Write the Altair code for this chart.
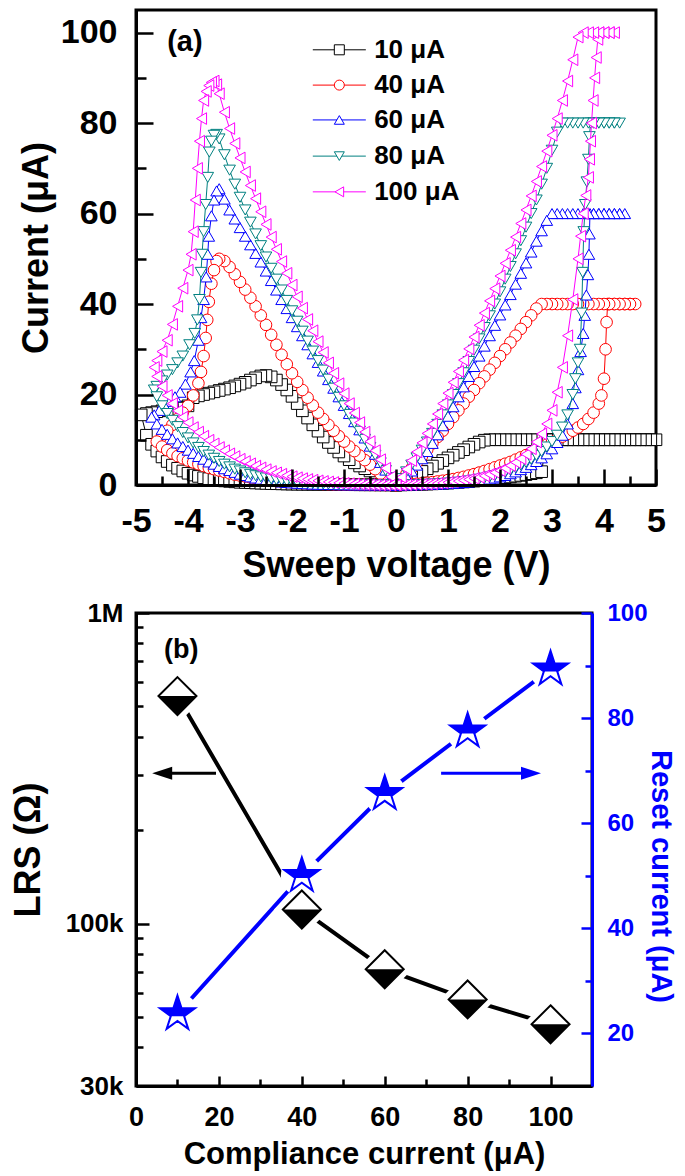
import altair as alt
import pandas as pd

FONT = "Liberation Sans"
BLUE = "#0000ff"

# ---------------- panel (a): I-V sweeps ----------------
SERIES = ["10 μA", "40 μA", "60 μA", "80 μA", "100 μA"]
COLORS = ["#000000", "#ff0000", "#0000ff", "#008080", "#ff00ff"]
SHAPES = ["square", "circle", "triangle-up", "triangle-down", "triangle-left"]

# 10 uA  (V, I) in sweep order
S10_SET = [(0.0, 0.0), (0.1, 0.02), (0.2, 0.05), (0.3, 0.08), (0.4, 0.12), (0.5, 0.16), (0.6, 0.2), (0.7, 0.25),
           (0.8, 0.3), (0.9, 0.36), (1.0, 0.42), (1.1, 0.5), (1.2, 0.58), (1.3, 0.67), (1.4, 0.76), (1.5, 0.86),
           (1.6, 0.97), (1.7, 1.08), (1.8, 1.2), (1.9, 1.33), (2.0, 1.47), (2.1, 1.62), (2.2, 1.78), (2.3, 1.95),
           (2.4, 2.12), (2.5, 2.3), (2.6, 2.5), (2.7, 2.7), (2.8, 2.95), (2.9, 10.0), (3.0, 10.0), (3.1, 10.0),
           (3.2, 10.0), (3.3, 10.0), (3.4, 10.0), (3.5, 10.0), (3.6, 10.0), (3.7, 10.0), (3.8, 10.0), (3.9, 10.0),
           (4.0, 10.0), (4.1, 10.0), (4.2, 10.0), (4.3, 10.0), (4.4, 10.0), (4.5, 10.0), (4.6, 10.0), (4.7, 10.0),
           (4.8, 10.0), (4.9, 10.0), (5.0, 10.0)]
S10_BACK = [(4.9, 10.0), (4.8, 10.0), (4.7, 10.0), (4.6, 10.0), (4.5, 10.0), (4.4, 10.0), (4.3, 10.0), (4.2, 10.0),
            (4.1, 10.0), (4.0, 10.0), (3.9, 10.0), (3.8, 10.0), (3.7, 10.0), (3.6, 10.0), (3.5, 10.0), (3.4, 10.0),
            (3.3, 10.0), (3.2, 10.0), (3.1, 10.0), (3.0, 10.0), (2.9, 10.0), (2.8, 10.0), (2.7, 10.0), (2.6, 10.0),
            (2.5, 10.0), (2.4, 10.0), (2.3, 10.0), (2.2, 10.0), (2.1, 10.0), (2.0, 10.0), (1.9, 10.0), (1.8, 10.0),
            (1.7, 9.9), (1.6, 9.5), (1.5, 9.0), (1.4, 8.4), (1.3, 7.8), (1.2, 7.2), (1.1, 6.6), (1.0, 6.0),
            (0.9, 5.4), (0.8, 4.8), (0.7, 4.2), (0.6, 3.6), (0.5, 3.0), (0.4, 2.4), (0.3, 1.8), (0.2, 1.2),
            (0.1, 0.6), (0.0, 0.0)]
S10_RESET = [(-0.1, 0.7), (-0.2, 1.4), (-0.3, 2.0), (-0.4, 2.6), (-0.5, 3.1), (-0.6, 3.6), (-0.7, 4.2), (-0.8, 4.9),
             (-0.9, 5.6), (-1.0, 6.4), (-1.1, 7.3), (-1.2, 8.3), (-1.3, 9.4), (-1.4, 10.6), (-1.5, 11.9), (-1.6, 13.3),
             (-1.7, 14.8), (-1.8, 16.4), (-1.9, 18.0), (-2.0, 19.6), (-2.1, 21.0), (-2.2, 22.2), (-2.3, 23.2),
             (-2.4, 23.9), (-2.5, 24.2), (-2.6, 24.1), (-2.7, 23.7), (-2.8, 23.2), (-2.9, 22.7), (-3.0, 22.3),
             (-3.1, 21.9), (-3.2, 21.5), (-3.3, 21.2), (-3.4, 20.9), (-3.5, 20.6), (-3.6, 20.3), (-3.7, 20.0),
             (-3.8, 19.7), (-3.9, 19.3), (-4.0, 17.5), (-4.1, 17.2), (-4.2, 17.0), (-4.3, 16.8), (-4.4, 16.6),
             (-4.5, 16.4), (-4.6, 16.2), (-4.7, 16.0), (-4.8, 15.8), (-4.9, 15.5)]
S10_HRS = [(-4.8, 11.0), (-4.7, 9.0), (-4.6, 7.5), (-4.5, 6.2), (-4.4, 5.2), (-4.3, 4.4), (-4.2, 3.7), (-4.1, 3.1),
           (-4.0, 2.6), (-3.9, 2.2), (-3.8, 1.9), (-3.7, 1.6), (-3.6, 1.4), (-3.5, 1.2), (-3.4, 1.0), (-3.3, 0.9),
           (-3.2, 0.8), (-3.1, 0.7), (-3.0, 0.6), (-2.9, 0.55), (-2.8, 0.5), (-2.7, 0.45), (-2.6, 0.4), (-2.5, 0.35),
           (-2.4, 0.3), (-2.3, 0.28), (-2.2, 0.25), (-2.1, 0.22), (-2.0, 0.2), (-1.9, 0.18), (-1.8, 0.17),
           (-1.7, 0.15), (-1.6, 0.14), (-1.5, 0.13), (-1.4, 0.12), (-1.3, 0.11), (-1.2, 0.1), (-1.1, 0.09),
           (-1.0, 0.08), (-0.9, 0.07), (-0.8, 0.06), (-0.7, 0.05), (-0.6, 0.04), (-0.5, 0.04), (-0.4, 0.03),
           (-0.3, 0.02), (-0.2, 0.02), (-0.1, 0.01), (0.0, 0.0)]

# 40 uA
S40_SET = [(0.0, 0.0), (0.1, 0.05), (0.2, 0.1), (0.3, 0.18), (0.4, 0.27), (0.5, 0.37), (0.6, 0.5), (0.7, 0.63),
           (0.8, 0.78), (0.9, 0.94), (1.0, 1.1), (1.1, 1.3), (1.2, 1.55), (1.3, 1.8), (1.4, 2.1), (1.5, 2.4),
           (1.6, 2.75), (1.7, 3.1), (1.8, 3.5), (1.9, 3.9), (2.0, 4.3), (2.1, 4.7), (2.2, 5.1), (2.3, 5.6),
           (2.4, 6.1), (2.5, 6.6), (2.6, 7.1), (2.7, 7.7), (2.8, 8.3), (2.9, 8.9), (3.0, 9.5), (3.1, 10.1),
           (3.2, 10.7), (3.3, 11.3), (3.4, 12.0), (3.5, 12.7), (3.6, 13.5), (3.7, 14.6), (3.8, 16.0), (3.9, 18.0),
           (3.95, 19.8), (4.0, 23.5), (4.03, 30.0), (4.05, 36.0), (4.07, 40.0), (4.1, 40.0), (4.2, 40.0),
           (4.3, 40.0), (4.4, 40.0), (4.5, 40.0), (4.6, 40.0)]
S40_BACK = [(4.5, 40.0), (4.4, 40.0), (4.3, 40.0), (4.2, 40.0), (4.1, 40.0), (4.0, 40.0), (3.9, 40.0), (3.8, 40.0),
            (3.7, 40.0), (3.6, 40.0), (3.5, 40.0), (3.4, 40.0), (3.3, 40.0), (3.2, 40.0), (3.1, 40.0), (3.0, 40.0),
            (2.9, 40.0), (2.8, 40.0), (2.7, 39.0), (2.6, 37.5), (2.5, 36.0), (2.4, 34.5), (2.3, 33.0), (2.2, 31.5),
            (2.1, 30.0), (2.0, 28.5), (1.9, 27.0), (1.8, 25.5), (1.7, 24.0), (1.6, 22.5), (1.5, 21.0), (1.4, 19.5),
            (1.3, 18.0), (1.2, 16.5), (1.1, 15.0), (1.0, 13.5), (0.9, 12.0), (0.8, 10.6), (0.7, 9.2), (0.6, 7.8),
            (0.5, 6.4), (0.4, 5.0), (0.3, 3.7), (0.2, 2.4), (0.1, 1.2), (0.0, 0.0)]
S40_RESET = [(-0.1, 0.8), (-0.2, 1.6), (-0.3, 2.5), (-0.4, 3.5), (-0.5, 4.5), (-0.6, 5.5), (-0.7, 6.5), (-0.8, 7.5),
             (-0.9, 8.5), (-1.0, 9.6), (-1.1, 10.8), (-1.2, 12.0), (-1.3, 13.3), (-1.4, 14.6), (-1.5, 16.0),
             (-1.6, 17.6), (-1.7, 19.3), (-1.8, 21.0), (-1.9, 22.8), (-2.0, 24.7), (-2.1, 26.7), (-2.2, 28.8),
             (-2.3, 31.0), (-2.4, 33.2), (-2.5, 35.4), (-2.6, 37.5), (-2.7, 39.5), (-2.8, 41.4), (-2.9, 43.2),
             (-3.0, 44.9), (-3.1, 46.6), (-3.2, 48.2), (-3.3, 49.5), (-3.4, 50.0), (-3.45, 49.5), (-3.5, 47.5),
             (-3.55, 44.5), (-3.6, 40.5), (-3.63, 36.5), (-3.66, 32.5), (-3.7, 28.5), (-3.75, 25.0), (-3.8, 22.5),
             (-3.9, 19.8), (-4.0, 17.5), (-4.1, 16.0), (-4.2, 14.6), (-4.3, 13.3), (-4.4, 12.0), (-4.5, 10.8),
             (-4.6, 9.6)]
S40_HRS = [(-4.5, 8.5), (-4.4, 7.7), (-4.3, 7.0), (-4.2, 6.4), (-4.1, 5.9), (-4.0, 5.4), (-3.9, 5.0), (-3.8, 4.6),
           (-3.7, 4.2), (-3.6, 3.8), (-3.5, 3.5), (-3.4, 3.2), (-3.3, 2.9), (-3.2, 2.6), (-3.1, 2.3), (-3.0, 2.1),
           (-2.9, 1.9), (-2.8, 1.7), (-2.7, 1.5), (-2.6, 1.3), (-2.5, 1.15), (-2.4, 1.0), (-2.3, 0.88), (-2.2, 0.76),
           (-2.1, 0.65), (-2.0, 0.56), (-1.9, 0.48), (-1.8, 0.41), (-1.7, 0.35), (-1.6, 0.3), (-1.5, 0.25),
           (-1.4, 0.21), (-1.3, 0.17), (-1.2, 0.14), (-1.1, 0.11), (-1.0, 0.09), (-0.9, 0.07), (-0.8, 0.06),
           (-0.7, 0.05), (-0.6, 0.04), (-0.5, 0.03), (-0.4, 0.02), (-0.3, 0.02), (-0.2, 0.01), (-0.1, 0.01),
           (0.0, 0.0)]

# 60 uA
S60_SET = [(0.0, 0.0), (0.1, 0.01), (0.2, 0.02), (0.3, 0.04), (0.4, 0.07), (0.5, 0.1), (0.6, 0.13), (0.7, 0.17),
           (0.8, 0.21), (0.9, 0.26), (1.0, 0.31), (1.1, 0.38), (1.2, 0.46), (1.3, 0.55), (1.4, 0.66), (1.5, 0.8),
           (1.6, 0.95), (1.7, 1.12), (1.8, 1.32), (1.9, 1.55), (2.0, 1.8), (2.1, 2.1), (2.2, 2.5), (2.3, 2.9),
           (2.4, 3.4), (2.5, 3.9), (2.6, 4.5), (2.7, 5.2), (2.8, 6.0), (2.9, 6.9), (3.0, 8.0), (3.1, 9.4),
           (3.2, 11.0), (3.3, 13.5), (3.4, 18.0), (3.45, 21.5), (3.5, 25.5), (3.55, 29.5), (3.6, 33.5),
           (3.63, 37.5), (3.66, 42.0), (3.69, 46.5), (3.71, 51.0), (3.72, 55.5), (3.73, 60.0), (3.8, 60.0),
           (3.9, 60.0), (4.0, 60.0), (4.1, 60.0), (4.2, 60.0), (4.3, 60.0), (4.4, 60.0)]
S60_BACK = [(4.3, 60.0), (4.2, 60.0), (4.1, 60.0), (4.0, 60.0), (3.9, 60.0), (3.8, 60.0), (3.7, 60.0), (3.6, 60.0),
            (3.5, 60.0), (3.4, 60.0), (3.3, 60.0), (3.2, 60.0), (3.1, 60.0), (3.0, 60.0), (2.9, 58.5), (2.8, 56.2),
            (2.7, 53.9), (2.6, 51.5), (2.5, 49.1), (2.4, 46.8), (2.3, 44.4), (2.2, 42.1), (2.1, 39.8), (2.0, 37.6),
            (1.9, 35.3), (1.8, 33.0), (1.7, 30.7), (1.6, 28.5), (1.5, 26.2), (1.4, 24.0), (1.3, 21.7), (1.2, 19.5),
            (1.1, 17.3), (1.0, 15.2), (0.9, 13.1), (0.8, 11.1), (0.7, 9.2), (0.6, 7.4), (0.5, 5.8), (0.4, 4.4),
            (0.3, 3.1), (0.2, 1.9), (0.1, 0.9), (0.0, 0.0)]
S60_RESET = [(-0.1, 1.6), (-0.2, 3.3), (-0.3, 5.0), (-0.4, 6.8), (-0.5, 8.6), (-0.6, 10.4), (-0.7, 12.2), (-0.8, 14.0),
             (-0.9, 15.8), (-1.0, 17.6), (-1.1, 19.5), (-1.2, 21.4), (-1.3, 23.3), (-1.4, 25.2), (-1.5, 27.1),
             (-1.6, 29.0), (-1.7, 31.0), (-1.8, 33.0), (-1.9, 35.0), (-2.0, 37.0), (-2.1, 39.0), (-2.2, 41.0),
             (-2.3, 43.1), (-2.4, 45.2), (-2.5, 47.3), (-2.6, 49.3), (-2.7, 51.2), (-2.8, 53.1), (-2.9, 55.0),
             (-3.0, 56.9), (-3.1, 58.8), (-3.2, 60.8), (-3.3, 63.2), (-3.4, 65.5), (-3.45, 65.0), (-3.5, 63.0),
             (-3.55, 59.5), (-3.6, 55.0), (-3.62, 51.0), (-3.65, 46.0), (-3.7, 41.0), (-3.75, 37.0), (-3.8, 32.0),
             (-3.88, 27.5), (-3.95, 25.0), (-4.05, 22.3), (-4.15, 20.5), (-4.25, 19.5), (-4.35, 18.5),
             (-4.45, 17.5), (-4.55, 16.5), (-4.65, 15.5), (-4.7, 15.0)]
S60_HRS = [(-4.6, 13.5), (-4.5, 12.3), (-4.4, 11.2), (-4.3, 10.2), (-4.2, 9.3), (-4.1, 8.5), (-4.0, 7.7), (-3.9, 7.0),
           (-3.8, 6.3), (-3.7, 5.7), (-3.6, 5.1), (-3.5, 4.6), (-3.4, 4.1), (-3.3, 3.6), (-3.2, 3.2), (-3.1, 2.8),
           (-3.0, 2.4), (-2.9, 2.1), (-2.8, 1.8), (-2.7, 1.55), (-2.6, 1.3), (-2.5, 1.1), (-2.4, 0.95), (-2.3, 0.8),
           (-2.2, 0.67), (-2.1, 0.56), (-2.0, 0.47), (-1.9, 0.39), (-1.8, 0.32), (-1.7, 0.26), (-1.6, 0.21),
           (-1.5, 0.17), (-1.4, 0.14), (-1.3, 0.11), (-1.2, 0.09), (-1.1, 0.07), (-1.0, 0.05), (-0.9, 0.04),
           (-0.8, 0.03), (-0.7, 0.02), (-0.6, 0.02), (-0.5, 0.01), (-0.4, 0.01), (-0.3, 0.01), (-0.2, 0.0),
           (-0.1, 0.0), (0.0, 0.0)]

# 80 uA
S80_SET = [(0.0, 0.0), (0.1, 0.01), (0.2, 0.03), (0.3, 0.05), (0.4, 0.08), (0.5, 0.12), (0.6, 0.16), (0.7, 0.21),
           (0.8, 0.27), (0.9, 0.34), (1.0, 0.42), (1.1, 0.51), (1.2, 0.62), (1.3, 0.75), (1.4, 0.9), (1.5, 1.07),
           (1.6, 1.27), (1.7, 1.5), (1.8, 1.77), (1.9, 2.08), (2.0, 2.43), (2.1, 2.83), (2.2, 3.3), (2.3, 3.8),
           (2.4, 4.4), (2.5, 5.0), (2.6, 5.7), (2.7, 6.5), (2.8, 7.4), (2.9, 8.4), (3.0, 9.6), (3.1, 11.0),
           (3.2, 12.8), (3.3, 15.5), (3.4, 20.0), (3.45, 23.5), (3.5, 27.0), (3.54, 30.0), (3.57, 38.0),
           (3.59, 47.0), (3.61, 56.0), (3.64, 62.0), (3.67, 67.0), (3.7, 72.0), (3.72, 77.0), (3.74, 80.0),
           (3.8, 80.0), (3.9, 80.0), (4.0, 80.0), (4.1, 80.0), (4.2, 80.0), (4.3, 80.0)]
S80_BACK = [(4.2, 80.0), (4.1, 80.0), (4.0, 80.0), (3.9, 80.0), (3.8, 80.0), (3.7, 80.0), (3.6, 80.0), (3.5, 80.0),
            (3.4, 80.0), (3.3, 80.0), (3.2, 80.0), (3.1, 78.0), (3.0, 74.0), (2.9, 70.0), (2.8, 66.5), (2.7, 63.0),
            (2.6, 60.0), (2.5, 57.0), (2.4, 54.0), (2.3, 51.1), (2.2, 48.3), (2.1, 45.5), (2.0, 42.7), (1.9, 40.0),
            (1.8, 37.4), (1.7, 34.8), (1.6, 32.3), (1.5, 29.8), (1.4, 27.3), (1.3, 24.8), (1.2, 22.4), (1.1, 20.0),
            (1.0, 17.7), (0.9, 15.5), (0.8, 13.4), (0.7, 11.4), (0.6, 9.5), (0.5, 7.7), (0.4, 6.0), (0.3, 4.4),
            (0.2, 2.9), (0.1, 1.4), (0.0, 0.0)]
S80_RESET = [(-0.1, 1.6), (-0.2, 3.2), (-0.3, 4.9), (-0.4, 6.6), (-0.5, 8.3), (-0.6, 10.1), (-0.7, 11.9), (-0.8, 13.7),
             (-0.9, 15.6), (-1.0, 17.5), (-1.1, 19.4), (-1.2, 21.4), (-1.3, 23.4), (-1.4, 25.4), (-1.5, 27.5),
             (-1.6, 29.6), (-1.7, 31.8), (-1.8, 34.0), (-1.9, 36.2), (-2.0, 38.5), (-2.1, 40.8), (-2.2, 43.1),
             (-2.3, 45.5), (-2.4, 47.9), (-2.5, 50.4), (-2.6, 52.9), (-2.7, 55.5), (-2.8, 58.1), (-2.9, 60.8),
             (-3.0, 63.6), (-3.1, 66.5), (-3.2, 69.6), (-3.3, 73.0), (-3.4, 76.5), (-3.45, 77.5), (-3.5, 77.3),
             (-3.55, 76.0), (-3.59, 73.6), (-3.62, 68.0), (-3.66, 62.0), (-3.7, 56.0), (-3.73, 51.0), (-3.75, 47.0),
             (-3.78, 41.0), (-3.82, 36.5), (-3.87, 33.5), (-3.97, 31.0), (-4.1, 28.5), (-4.2, 27.0), (-4.3, 25.5),
             (-4.4, 24.3), (-4.5, 23.0), (-4.6, 21.8), (-4.65, 21.0)]
S80_HRS = [(-4.6, 19.5), (-4.5, 17.5), (-4.4, 15.8), (-4.3, 14.3), (-4.2, 12.9), (-4.1, 11.6), (-4.0, 10.4),
           (-3.9, 9.3), (-3.8, 8.3), (-3.7, 7.4), (-3.6, 6.6), (-3.5, 5.9), (-3.4, 5.2), (-3.3, 4.6), (-3.2, 4.0),
           (-3.1, 3.5), (-3.0, 3.1), (-2.9, 2.7), (-2.8, 2.35), (-2.7, 2.05), (-2.6, 1.8), (-2.5, 1.55), (-2.4, 1.35),
           (-2.3, 1.17), (-2.2, 1.0), (-2.1, 0.86), (-2.0, 0.73), (-1.9, 0.62), (-1.8, 0.52), (-1.7, 0.44),
           (-1.6, 0.37), (-1.5, 0.3), (-1.4, 0.25), (-1.3, 0.2), (-1.2, 0.16), (-1.1, 0.13), (-1.0, 0.1),
           (-0.9, 0.08), (-0.8, 0.06), (-0.7, 0.04), (-0.6, 0.03), (-0.5, 0.02), (-0.4, 0.01), (-0.3, 0.01),
           (-0.2, 0.0), (-0.1, 0.0), (0.0, 0.0)]

# 100 uA
S100_SET = [(0.0, 0.0), (0.1, 0.02), (0.2, 0.04), (0.3, 0.07), (0.4, 0.11), (0.5, 0.16), (0.6, 0.22), (0.7, 0.29),
            (0.8, 0.37), (0.9, 0.47), (1.0, 0.58), (1.1, 0.71), (1.2, 0.86), (1.3, 1.03), (1.4, 1.23), (1.5, 1.46),
            (1.6, 1.72), (1.7, 2.02), (1.8, 2.36), (1.9, 2.75), (2.0, 3.2), (2.1, 3.7), (2.2, 4.3), (2.3, 5.0),
            (2.4, 5.8), (2.5, 6.8), (2.6, 8.0), (2.7, 9.5), (2.8, 11.3), (2.9, 13.5), (3.0, 16.5), (3.1, 20.5),
            (3.2, 26.0), (3.3, 33.0), (3.4, 41.0), (3.5, 50.0), (3.55, 55.0), (3.6, 60.0), (3.65, 64.0),
            (3.7, 68.0), (3.72, 72.0), (3.74, 76.0), (3.76, 80.0), (3.79, 85.0), (3.82, 90.0), (3.85, 94.5),
            (3.88, 98.5), (3.9, 100.0), (4.0, 100.0), (4.1, 100.0), (4.2, 100.0)]
S100_BACK = [(4.1, 100.0), (4.0, 100.0), (3.9, 100.0), (3.8, 100.0), (3.7, 100.0), (3.6, 100.0), (3.5, 99.0),
             (3.4, 94.0), (3.3, 89.3), (3.2, 85.0), (3.1, 81.0), (3.0, 77.3), (2.9, 73.8), (2.8, 70.4), (2.7, 67.1),
             (2.6, 63.9), (2.5, 60.8), (2.4, 57.8), (2.3, 54.8), (2.2, 51.9), (2.1, 49.0), (2.0, 46.2), (1.9, 43.4),
             (1.8, 40.7), (1.7, 38.0), (1.6, 35.3), (1.5, 32.7), (1.4, 30.1), (1.3, 27.6), (1.2, 25.1), (1.1, 22.7),
             (1.0, 20.3), (0.9, 18.0), (0.8, 15.7), (0.7, 13.5), (0.6, 11.4), (0.5, 9.3), (0.4, 7.3), (0.3, 5.4),
             (0.2, 3.5), (0.1, 1.7), (0.0, 0.0)]
S100_RESET = [(-0.1, 1.8), (-0.2, 3.7), (-0.3, 5.6), (-0.4, 7.6), (-0.5, 9.6), (-0.6, 11.7), (-0.7, 13.8),
              (-0.8, 15.9), (-0.9, 18.0), (-1.0, 20.2), (-1.1, 22.4), (-1.2, 24.7), (-1.3, 27.0), (-1.4, 29.3),
              (-1.5, 31.7), (-1.6, 34.1), (-1.7, 36.6), (-1.8, 39.1), (-1.9, 41.6), (-2.0, 44.2), (-2.1, 46.8),
              (-2.2, 49.4), (-2.3, 52.1), (-2.4, 54.8), (-2.5, 57.6), (-2.6, 60.4), (-2.7, 63.3), (-2.8, 66.2),
              (-2.9, 69.2), (-3.0, 72.3), (-3.1, 75.5), (-3.2, 78.8), (-3.3, 82.4), (-3.4, 86.5), (-3.45, 88.5),
              (-3.5, 89.3), (-3.55, 89.0), (-3.6, 88.3), (-3.65, 87.0), (-3.7, 85.0), (-3.74, 81.0), (-3.78, 76.0),
              (-3.82, 70.0), (-3.86, 63.0), (-3.9, 56.0), (-3.94, 51.0), (-4.0, 47.5), (-4.1, 43.5), (-4.2, 39.5),
              (-4.3, 35.5), (-4.4, 32.0), (-4.5, 29.5), (-4.6, 27.5), (-4.65, 26.0)]
S100_HRS = [(-4.6, 24.0), (-4.5, 21.8), (-4.4, 19.8), (-4.3, 18.0), (-4.2, 16.4), (-4.1, 15.0), (-4.0, 13.8),
            (-3.9, 12.7), (-3.8, 11.7), (-3.7, 10.8), (-3.6, 9.9), (-3.5, 9.1), (-3.4, 8.3), (-3.3, 7.6), (-3.2, 6.9),
            (-3.1, 6.3), (-3.0, 5.7), (-2.9, 5.2), (-2.8, 4.7), (-2.7, 4.2), (-2.6, 3.8), (-2.5, 3.4), (-2.4, 3.0),
            (-2.3, 2.7), (-2.2, 2.4), (-2.1, 2.1), (-2.0, 1.85), (-1.9, 1.62), (-1.8, 1.42), (-1.7, 1.24),
            (-1.6, 1.08), (-1.5, 0.93), (-1.4, 0.8), (-1.3, 0.68), (-1.2, 0.57), (-1.1, 0.47), (-1.0, 0.38),
            (-0.9, 0.3), (-0.8, 0.23), (-0.7, 0.17), (-0.6, 0.12), (-0.5, 0.08), (-0.4, 0.05), (-0.3, 0.03),
            (-0.2, 0.02), (-0.1, 0.01), (0.0, 0.0)]

IV_ALL = [S10_SET + S10_BACK + S10_RESET + S10_HRS,
          S40_SET + S40_BACK + S40_RESET + S40_HRS,
          S60_SET + S60_BACK + S60_RESET + S60_HRS,
          S80_SET + S80_BACK + S80_RESET + S80_HRS,
          S100_SET + S100_BACK + S100_RESET + S100_HRS]

XA_TICKS = [-5, -4.5, -4, -3.5, -3, -2.5, -2, -1.5, -1, -0.5, 0, 0.5, 1, 1.5, 2, 2.5, 3, 3.5, 4, 4.5, 5]
YA_TICKS = [0, 10, 20, 30, 40, 50, 60, 70, 80, 90, 100]

# legend placement (data units of panel a)
LEG_Y = [96.2, 88.4, 80.7, 72.7, 64.8]
LEG_X_LINE = [-1.60, -0.58]
LEG_X_MARK = -1.09
LEG_X_TEXT = -0.42
PANEL_A_LABEL = ("(a)", -4.06, 97.9)

# ---------------- panel (b) ----------------
CC = [10, 40, 60, 80, 100]
LRS = [540000, 111000, 71300, 57000, 47400]
RESET = [23.7, 50.0, 65.6, 77.5, 89.3]
XB_TICKS = [0, 10, 20, 30, 40, 50, 60, 70, 80, 90, 100]
YL_TICKS = [30000, 40000, 50000, 60000, 70000, 80000, 90000, 100000, 200000, 300000, 400000, 500000,
            600000, 700000, 800000, 900000, 1000000]
YR_TICKS = [20, 30, 40, 50, 60, 70, 80, 90, 100]
ARROW_TAIL = [19.3, 73.6]
ARROW_SHAFT_END = [6.5, 95.0]
ARROW_TIP = [3.9, 97.7]
ARROW_Y = [69.5, 69.5]
ARROW_COLOR = ["black", BLUE]
PANEL_B_LABEL = ("(b)", 10.9, 93.0)

DIAMOND = "M0,-1L1,0L0,1L-1,0Z"
DIAMOND_LOW = "M-1,0L1,0L0,1Z"
STAR = ("M0,-1L0.2245,-0.309L0.951,-0.309L0.363,0.118L0.588,0.809L0,0.382L-0.588,0.809"
        "L-0.363,0.118L-0.951,-0.309L-0.2245,-0.309Z")
STAR_TOP = "M0,-1L0.2245,-0.309L0.951,-0.309L0.363,0.118L-0.363,0.118L-0.951,-0.309L-0.2245,-0.309Z"
HEAD_LEFT = "M0,0L4,-1.3L4,1.3Z"
HEAD_RIGHT = "M0,0L-4,-1.3L-4,1.3Z"


def make_axis(values, label_expr, tick_expr, pad, lsize, orient, tsize, tpad, color="black", **extra):
    return alt.Axis(orient=orient, values=values, labelExpr=label_expr, tickSize={"expr": tick_expr},
                    tickWidth=2.5, tickColor=color, labelPadding=pad, labelFontSize=lsize, labelFont=FONT,
                    labelFontWeight="bold", labelColor=color, labelOverlap=False, labelBound=False,
                    labelFlush=False, domainColor=color, domainWidth=3, titleFont=FONT, titleFontSize=tsize,
                    titleFontWeight="bold", titleColor=color, titlePadding=tpad, grid=False, zindex=1, **extra)


AXIS_XA = make_axis(XA_TICKS, "datum.value % 1 == 0 ? '' + datum.value : ''",
                    "datum.value % 1 == 0 ? -16 : -9", 35, 34, "bottom", 36, 3)
AXIS_YA = make_axis(YA_TICKS, "datum.value % 20 == 0 ? '' + datum.value : ''",
                    "datum.value % 20 == 0 ? -17 : -10", 36, 34, "left", 36, 5)
AXIS_XB = make_axis(XB_TICKS, "datum.value % 20 == 0 ? '' + datum.value : ''",
                    "datum.value % 20 == 0 ? -10 : -7", 28, 27, "bottom", 31, 6)
AXIS_YL = make_axis(YL_TICKS,
                    "datum.value == 30000 ? '30k' : datum.value == 100000 ? '100k' : "
                    "datum.value == 1000000 ? '1M' : ''",
                    "(datum.value == 30000 || datum.value == 100000 || datum.value == 1000000) ? -13 : -7",
                    26, 26, "left", 36, 18)
AXIS_YR = make_axis(YR_TICKS, "datum.value % 20 == 0 ? '' + datum.value : ''",
                    "datum.value % 20 == 0 ? -11 : -7", 26, 24, "right", 29, 2, color=BLUE,
                    titleX=53, titleY=263, titleAngle=90, titleBaseline="bottom", titleAlign="center")


def xa(f):
    return alt.X(f"{f}:Q", scale=alt.Scale(domain=[-5, 5], nice=False, zero=False), axis=AXIS_XA,
                 title="Sweep voltage (V)")


def ya(f):
    return alt.Y(f"{f}:Q", scale=alt.Scale(domain=[0, 105], nice=False, zero=False), axis=AXIS_YA,
                 title="Current (μA)")


layers_a = []
for s, c, sh, pts in zip(SERIES, COLORS, SHAPES, IV_ALL):
    d = pd.DataFrame(pts, columns=["V", "I"])
    d["idx"] = list(range(len(d)))
    base = alt.Chart(d)
    layers_a.append(base.mark_line(color=c, strokeWidth=1).encode(x=xa("V"), y=ya("I"), order="idx:Q"))
    layers_a.append(base.mark_point(shape=sh, size=135, filled=True, fill="white", stroke=c,
                                    strokeWidth=1, opacity=1).encode(x=xa("V"), y=ya("I")))

for s, c, sh, ly in zip(SERIES, COLORS, SHAPES, LEG_Y):
    dl = pd.DataFrame({"x1": [LEG_X_LINE[0]], "x2": [LEG_X_LINE[1]], "xm": [LEG_X_MARK],
                       "xt": [LEG_X_TEXT], "y": [ly], "t": [s]})
    bl = alt.Chart(dl)
    layers_a.append(bl.mark_rule(color=c, strokeWidth=1).encode(x=xa("x1"), x2="x2:Q", y=ya("y")))
    layers_a.append(bl.mark_point(shape=sh, size=100, filled=True, fill="white", stroke=c, strokeWidth=1,
                                  opacity=1).encode(x=xa("xm"), y=ya("y")))
    layers_a.append(bl.mark_text(align="left", baseline="middle", font=FONT, fontSize=26, fontWeight="bold",
                                 color="black").encode(x=xa("xt"), y=ya("y"), text="t:N"))

da = pd.DataFrame({"t": [PANEL_A_LABEL[0]], "x": [PANEL_A_LABEL[1]], "y": [PANEL_A_LABEL[2]]})
layers_a.append(alt.Chart(da).mark_text(align="center", baseline="middle", font=FONT, fontSize=29,
                                        fontWeight="bold", color="black").encode(x=xa("x"), y=ya("y"), text="t:N"))

chart_a = alt.layer(*layers_a).properties(width=520, height=475)

# ---------------- panel (b) chart ----------------
db = pd.DataFrame({"cc": CC, "lrs": LRS, "rst": RESET})
darrow = pd.DataFrame({"x1": ARROW_TAIL, "x2": ARROW_SHAFT_END, "xt": ARROW_TIP, "y": ARROW_Y,
                       "col": ARROW_COLOR, "shape": [HEAD_LEFT, HEAD_RIGHT]})
dbl = pd.DataFrame({"t": [PANEL_B_LABEL[0]], "x": [PANEL_B_LABEL[1]], "y": [PANEL_B_LABEL[2]]})


def xb(f):
    return alt.X(f"{f}:Q", scale=alt.Scale(domain=[0, 110], nice=False, zero=False), axis=AXIS_XB,
                 title="Compliance current (μA)")


def yl(f, axis=None):
    return alt.Y(f"{f}:Q", scale=alt.Scale(type="log", domain=[30000, 1000000], nice=False), axis=axis,
                 title="LRS (Ω)")


def yr(f, axis=None):
    return alt.Y(f"{f}:Q", scale=alt.Scale(domain=[10, 100], nice=False, zero=False), axis=axis,
                 title="Reset current (μA)")


bb = alt.Chart(db)
layers_b = [
    bb.mark_line(color="black", strokeWidth=4).encode(x=xb("cc"), y=yl("lrs", AXIS_YL)),
    bb.mark_line(color=BLUE, strokeWidth=4).encode(x=xb("cc"), y=yr("rst", AXIS_YR)),
    bb.mark_point(shape=DIAMOND, size=3100, filled=True, color="white", opacity=1).encode(x=xb("cc"), y=yl("lrs")),
    bb.mark_point(shape="circle", size=1764, filled=True, color="white", opacity=1).encode(x=xb("cc"), y=yr("rst")),
    bb.mark_point(shape=DIAMOND, size=1444, filled=True, fill="white", stroke="black", strokeWidth=2,
                  opacity=1).encode(x=xb("cc"), y=yl("lrs")),
    bb.mark_point(shape=DIAMOND_LOW, size=1444, filled=True, fill="black", strokeWidth=0,
                  opacity=1).encode(x=xb("cc"), y=yl("lrs")),
    bb.mark_point(shape=STAR, size=1354, filled=True, fill="white", stroke=BLUE, strokeWidth=2,
                  opacity=1).encode(x=xb("cc"), y=yr("rst")),
    bb.mark_point(shape=STAR_TOP, size=1354, filled=True, fill=BLUE, strokeWidth=0,
                  opacity=1).encode(x=xb("cc"), y=yr("rst")),
    alt.Chart(darrow).mark_rule(strokeWidth=3).encode(x=xb("x1"), x2="x2:Q", y=yr("y"),
                                                      color=alt.Color("col:N", scale=None)),
    alt.Chart(darrow).mark_point(filled=True, size=100, opacity=1).encode(
        x=xb("xt"), y=yr("y"), shape=alt.Shape("shape:N", scale=None), color=alt.Color("col:N", scale=None)),
    alt.Chart(dbl).mark_text(align="center", baseline="middle", font=FONT, fontSize=27, fontWeight="bold",
                             color="black").encode(x=xb("x"), y=yr("y"), text="t:N"),
]
chart_b = alt.layer(*layers_b).resolve_scale(y="independent").properties(width=456, height=473)

chart = (alt.vconcat(chart_a, chart_b, spacing=13)
         .properties(padding={"left": 0, "top": 0, "right": 0, "bottom": 0}, background="white")
         .configure_view(stroke="black", strokeWidth=3))

chart.save("out.html", embed_options={"renderer": "svg", "actions": False})
